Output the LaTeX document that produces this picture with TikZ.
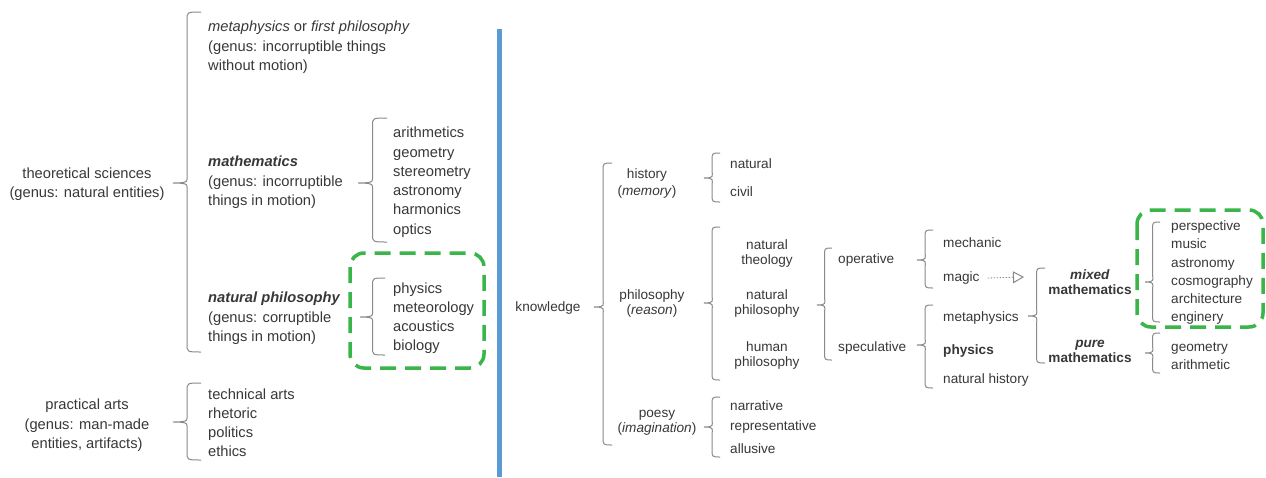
\documentclass[tikz,border=0pt]{standalone}
\usepackage{fontspec}
\setmainfont{Liberation Sans}
\usetikzlibrary{arrows.meta}
\definecolor{txtcol}{HTML}{383838}
\definecolor{bracecol}{HTML}{8A8A8A}
\definecolor{grncol}{HTML}{3AB54A}
\definecolor{blucol}{HTML}{5B9BD5}
\newcommand{\cbrace}[5]{%
  \pgfmathsetmacro\BrL{#1-0.5*#5}%
  \pgfmathsetmacro\BrT{#1-#5}%
  \pgfmathsetmacro\BrM{#1-0.5*#5+3}%
  \draw[bracestyle] (#1,#2) .. controls (\BrL,#2) and (\BrL,#2) .. (\BrL,#2+8) -- (\BrL,#4-8)
    .. controls (\BrL,#4-2) and (\BrM,#4) .. (\BrT,#4)
    .. controls (\BrM,#4) and (\BrL,#4+2) .. (\BrL,#4+8) -- (\BrL,#3-8)
    .. controls (\BrL,#3) and (\BrL,#3) .. (#1,#3);%
}
\begin{document}
\begin{tikzpicture}[x=1pt,y=-1pt,
  L/.style={font=\fontsize{14.7}{19.3}\selectfont, text=txtcol, inner sep=0pt, align=left, anchor=west, yshift=-1.2pt},
  Lc/.style={L, align=center, anchor=center},
  R/.style={font=\fontsize{13.6}{15}\selectfont, text=txtcol, inner sep=0pt, align=left, anchor=west, yshift=-1.2pt},
  Rc/.style={R, align=center, anchor=center},
  bracestyle/.style={draw=bracecol, line width=1pt},
  greenbox/.style={draw=grncol, line width=3.5pt, dash pattern=on 16pt off 9pt, rounded corners=14pt}
]
\fill[white] (0,0) rectangle (1266,477);
\useasboundingbox (0,0) rectangle (1266,477);

% divider
\draw[blucol, line width=5.5pt] (499.5,29) -- (499.5,477);

% ---------- left part ----------
\node[Lc] (theo) at (87,183) {theoretical sciences\\(genus: natural entities)};
\node[L] (meta) at (208,46) {\textit{metaphysics} or \textit{first philosophy}\\(genus: incorruptible things\\without motion)};
\node[L] (math) at (208,181) {\textbf{\textit{mathematics}}\\(genus: incorruptible\\things in motion)};
\node[L] (mlist) at (393,181) {arithmetics\\geometry\\stereometry\\astronomy\\harmonics\\optics};
\node[L] (natph) at (208,317) {\textbf{\textit{natural philosophy}}\\(genus: corruptible\\things in motion)};
\node[L] (plist) at (393,317) {physics\\meteorology\\acoustics\\biology};
\node[Lc] (prac) at (87,424) {practical arts\\(genus: man-made\\entities, artifacts)};
\node[L] (alist) at (208,421.5) {technical arts\\rhetoric\\politics\\ethics};

\cbrace{201}{12}{352}{183}{28}
\cbrace{387}{118}{242}{183}{29}
\cbrace{385}{278}{355}{317}{25}
\cbrace{201}{383}{460}{422}{28}

\draw[greenbox] (350,253) rectangle (484,368);

% ---------- right part ----------
\node[Rc] (know) at (548,307) {knowledge};
\node[Rc, font=\fontsize{13.6}{16.5}\selectfont] (hist) at (647,182.5) {history\\(\textit{memory})};
\node[Rc] (phil) at (652,302.5) {philosophy\\(\textit{reason})};
\node[Rc] (poesy) at (657,422) {poesy\\(\textit{imagination})};
\node[R] (nat) at (730,162) {natural};
\node[R] (civ) at (730,190) {civil};
\node[Rc] (ntheo) at (767,252) {natural\\theology};
\node[Rc] (nphil) at (767,302.5) {natural\\philosophy};
\node[Rc] (hphil) at (767,354) {human\\philosophy};
\node[R] (narr) at (730,404) {narrative};
\node[R] (repr) at (730,426) {representative};
\node[R] (allu) at (730,447) {allusive};
\node[R] (oper) at (838,259) {operative};
\node[R] (spec) at (838,347) {speculative};
\node[R] (mech) at (943,241) {mechanic};
\node[R] (magic) at (943,277) {magic};
\node[R] (rmeta) at (943,317) {metaphysics};
\node[R] (rphys) at (943,350) {\textbf{physics}};
\node[R] (nhist) at (943,379) {natural history};
\node[Rc] (mixed) at (1090,280.5) {\textbf{\textit{mixed}}\\\textbf{mathematics}};
\node[Rc] (pure) at (1090,350) {\textbf{\textit{pure}}\\\textbf{mathematics}};
\node[R, font=\fontsize{13.6}{18.2}\selectfont] (mxlist) at (1171,271.5) {perspective\\music\\astronomy\\cosmography\\architecture\\enginery};
\node[R, font=\fontsize{13.6}{18}\selectfont] (glist) at (1171,355) {geometry\\arithmetic};

\cbrace{612}{163}{445}{307}{18}
\cbrace{720}{153}{202}{178}{16}
\cbrace{720}{227}{380}{303}{16}
\cbrace{720}{397}{457}{427}{16}
\cbrace{832}{248}{360}{305}{15}
\cbrace{933}{230}{288}{260}{16}
\cbrace{933}{305}{388}{345}{16}
\cbrace{1045}{268}{363}{316}{17}
\cbrace{1160}{222}{322}{282}{15}
\cbrace{1160}{333}{373}{353}{15}

\coordinate (arrowend) at (1024,277);
\draw[draw=bracecol, line width=0.8pt, dash pattern=on 1.5pt off 1.5pt, shorten <=8pt,
  -{Triangle[open, length=11pt, width=12pt, line width=1pt]}] (magic.east) -- (arrowend);

\draw[greenbox] (1137,210) rectangle (1263,327);
\end{tikzpicture}
\end{document}
